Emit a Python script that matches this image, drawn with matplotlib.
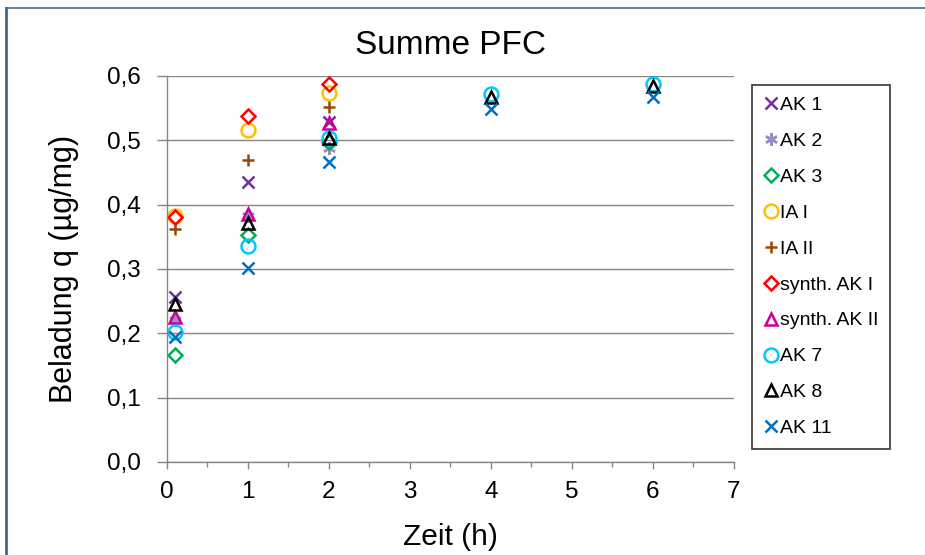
import matplotlib
matplotlib.use("Agg")
from matplotlib import pyplot as plt
from matplotlib.lines import Line2D
from matplotlib.ticker import FuncFormatter, MultipleLocator

plt.rcParams['font.family'] = ['Liberation Sans', 'DejaVu Sans']

# Zeitpunkte (h)
t_short = [0.1, 1, 2]
t_long = [0.1, 1, 2, 4, 6]

# Beladung q (µg/mg) je Aktivkohle
ak1 = [0.257, 0.435, 0.529]
ak2 = [0.220, 0.383, 0.488]
ak3 = [0.166, 0.353, 0.497]
ia1 = [0.383, 0.516, 0.574]
ia2 = [0.362, 0.470, 0.552]
synth1 = [0.381, 0.538, 0.587]
synth2 = [0.226, 0.386, 0.527]
ak7 = [0.202, 0.336, 0.503, 0.572, 0.588]
ak8 = [0.245, 0.372, 0.504, 0.568, 0.585]
ak11 = [0.195, 0.301, 0.467, 0.549, 0.568]

# Serien: Name, x, y, Marker, Farbe, Markergröße
series = [
    ('AK 1', t_short, ak1, 'x', '#7030A0', 8),
    ('AK 2', t_short, ak2, (6, 2, 0), '#9B8BC4', 9),
    ('AK 3', t_short, ak3, 'D', '#00B050', 7),
    ('IA I', t_short, ia1, 'o', '#FFC000', 10),
    ('IA II', t_short, ia2, '+', '#984807', 9),
    ('synth. AK I', t_short, synth1, 'D', '#FF0000', 7),
    ('synth. AK II', t_short, synth2, '^', '#CC0099', 9),
    ('AK 7', t_long, ak7, 'o', '#00C8FF', 10),
    ('AK 8', t_long, ak8, '^', '#000000', 9),
    ('AK 11', t_long, ak11, 'x', '#0070C0', 8),
]

fig = plt.figure(figsize=(9.25, 5.55), dpi=100)
ax = fig.add_axes([0.1805, 0.1676, 0.613, 0.6955])

for name, x, y, m, c, ms in series:
    ax.plot(x, y, linestyle='none', marker=m, markersize=ms,
            markerfacecolor='none', markeredgecolor=c, markeredgewidth=1.8,
            label=name, clip_on=False)

grey = '#868686'
ax.set_xlim(0, 7)
ax.set_ylim(0, 0.6)
ax.yaxis.set_major_locator(MultipleLocator(0.1))
ax.xaxis.set_major_locator(MultipleLocator(1))
ax.xaxis.set_minor_locator(MultipleLocator(0.5))
ax.yaxis.set_major_formatter(FuncFormatter(lambda v, p: f"{v:.1f}".replace('.', ',')))
ax.grid(axis='y', color=grey, linewidth=1)
ax.set_axisbelow(True)
for s in ['top', 'right']:
    ax.spines[s].set_visible(False)
for s in ['left', 'bottom']:
    ax.spines[s].set_color(grey)
    ax.spines[s].set_linewidth(1)
ax.tick_params(axis='both', which='major', colors=grey, labelcolor='black',
               labelsize=17.5, width=1)
ax.tick_params(axis='y', length=7, pad=12)
ax.tick_params(axis='x', length=5, pad=9)
ax.tick_params(axis='x', which='minor', colors=grey, length=3.5, width=1)

ax.set_title('Summe PFC', fontsize=24, pad=16)
ax.set_xlabel('Zeit (h)', fontsize=21.5, labelpad=14)
ax.set_ylabel('Beladung q (µg/mg)', fontsize=22, labelpad=20)

leg = ax.legend(loc='upper left', bbox_to_anchor=(1.032, 0.977), fontsize=14,
                frameon=True, fancybox=False, edgecolor='black',
                handlelength=0.7, handletextpad=0.15, labelspacing=0.94,
                borderpad=0.6, borderaxespad=0)
leg.get_frame().set_linewidth(1.2)

# Rahmen um die Grafik
edge = '#41698A'
fig.add_artist(Line2D([0.006, 1.0], [0.986, 0.986], color=edge, linewidth=1.2,
                      transform=fig.transFigure))
fig.add_artist(Line2D([0.0065, 0.0065], [0.0, 0.986], color=edge, linewidth=2,
                      transform=fig.transFigure))

fig.savefig('out.png', dpi=100)
